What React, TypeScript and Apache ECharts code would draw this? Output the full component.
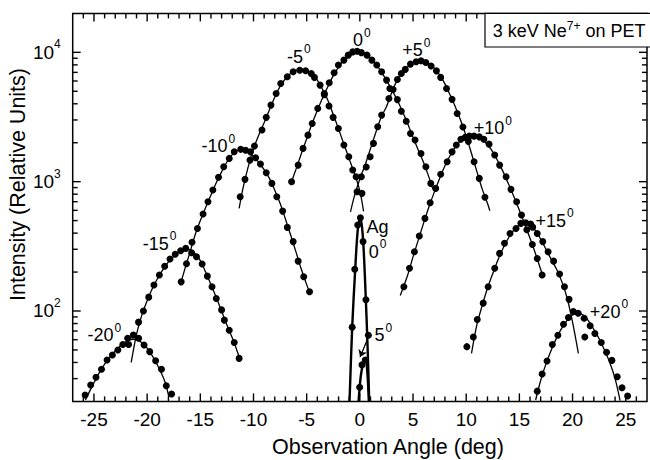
import React, { useEffect, useRef } from 'react';
import * as echarts from 'echarts';

const FONT = '"Liberation Sans", Arial, Helvetica, sans-serif';

// ---- axis ticks ----
const xMajorTicks = [-25, -20, -15, -10, -5, 0, 5, 10, 15, 20, 25];
const xMinorTicks = [-26, -24, -23, -22, -21, -19, -18, -17, -16, -14, -13, -12, -11, -9, -8, -7, -6, -4, -3, -2, -1, 1, 2, 3, 4, 6, 7, 8, 9, 11, 12, 13, 14, 16, 17, 18, 19, 21, 22, 23, 24, 26];
const yMajorTicks = [100, 1000, 10000];
const yMinorTicks = [30, 40, 50, 60, 70, 80, 90, 200, 300, 400, 500, 600, 700, 800, 900, 2000, 3000, 4000, 5000, 6000, 7000, 8000, 9000];

// ---- -20 deg ----
const dotsM20 = [[-25.83, 22.4], [-25.31, 26.8], [-24.81, 30.7], [-24.29, 35.4], [-23.77, 41.8], [-23.27, 45.7], [-22.75, 50], [-22.29, 55], [-21.83, 61.5], [-21.74, 55], [-21.3, 65.3], [-20.8, 61.5], [-20.29, 54.6], [-19.76, 48.5], [-19.2, 41.3], [-18.65, 35.4], [-18.2, 26.4], [-17.7, 22.8]];
const fitM20 = [[-25.8, 20.5], [-25.3, 25], [-24.8, 30], [-24.3, 35.5], [-23.8, 41], [-23.3, 46], [-22.8, 51], [-22.3, 55.5], [-21.8, 59], [-21.3, 60.5], [-20.8, 59], [-20.3, 55], [-19.8, 49], [-19.3, 42], [-18.8, 35], [-18.3, 28], [-17.95, 21.5]];

// ---- -15 deg ----
const dotsM15 = [[-20.81, 82], [-20.35, 100], [-19.85, 128], [-19.36, 159], [-18.85, 190], [-18.35, 222], [-17.85, 252], [-17.36, 275], [-16.85, 292], [-16.37, 305], [-15.82, 282], [-15.36, 263], [-14.83, 231], [-14.34, 186], [-13.9, 154], [-13.5, 125], [-13.0, 102], [-12.74, 85], [-12.28, 71], [-11.81, 57], [-11.35, 43]];
const fitM15 = [[-21.5, 40], [-21, 66], [-20.5, 93], [-20, 120], [-19.5, 150], [-19, 180], [-18.5, 210], [-18, 240], [-17.5, 265], [-17, 285], [-16.5, 298], [-16, 298], [-15.5, 278], [-15, 245], [-14.5, 200], [-14, 160], [-13.5, 127], [-13, 100], [-12.5, 78], [-12, 62], [-11.5, 48], [-11.25, 41]];

// ---- -10 deg ----
const dotsM10 = [[-16.8, 168], [-16.3, 232], [-15.78, 340], [-15.27, 435], [-14.74, 562], [-14.28, 700], [-13.82, 861], [-13.29, 1080], [-12.8, 1303], [-12.28, 1513], [-11.81, 1702], [-11.2, 1778], [-10.74, 1750], [-10.28, 1700], [-9.8, 1530], [-9.35, 1368], [-8.8, 1172], [-8.27, 970], [-7.81, 764], [-7.26, 592], [-6.82, 443], [-6.27, 344], [-5.8, 243], [-5.28, 184], [-4.73, 141]];
const fitM10 = [[-16.8, 168], [-16.5, 205], [-16, 280], [-15.5, 385], [-15, 500], [-14.5, 630], [-14, 790], [-13.5, 980], [-13, 1190], [-12.5, 1420], [-12, 1620], [-11.5, 1750], [-11, 1790], [-10.5, 1720], [-10, 1570], [-9.5, 1410], [-9, 1240], [-8.5, 1060], [-8, 860], [-7.5, 680], [-7, 515], [-6.5, 385], [-6, 285], [-5.5, 210], [-5, 160], [-4.7, 138]];

// ---- -5 deg ----
const dotsM5 = [[-11.25, 764], [-10.8, 1042], [-10.33, 1468], [-9.91, 1884], [-9.2, 2506], [-8.8, 3142], [-8.36, 3908], [-7.87, 4808], [-7.44, 5750], [-6.82, 6470], [-6.27, 7070], [-5.65, 7280], [-5.1, 7200], [-4.57, 6870], [-4.27, 6400], [-3.74, 5580], [-3.34, 4700], [-2.9, 3850], [-2.51, 3142], [-2.02, 2580], [-1.5, 1918], [-1.04, 1560], [-0.67, 1230], [-0.35, 1090], [0.2, 812]];
const fitM5 = [[-11.35, 622], [-11, 880], [-10.5, 1300], [-10, 1800], [-9.5, 2300], [-9, 2850], [-8.5, 3600], [-8, 4500], [-7.5, 5450], [-7, 6250], [-6.5, 6900], [-6, 7250], [-5.5, 7350], [-5, 7200], [-4.5, 6800], [-4, 6100], [-3.5, 5150], [-3, 4250], [-2.5, 3300], [-2, 2550], [-1.5, 1950], [-1, 1500], [-0.5, 1150], [0, 850], [0.35, 590]];

// ---- 0 deg ----
const dots0 = [[-6.42, 1000], [-5.8, 1343], [-5.34, 1808], [-4.88, 2290], [-4.48, 2820], [-3.96, 3685], [-3.34, 4808], [-2.88, 5810], [-2.42, 6950], [-2.02, 7970], [-1.5, 8700], [-1.09, 9510], [-0.67, 10080], [-0.26, 10200], [0.14, 9950], [0.67, 9510], [1.13, 8700], [1.59, 7970], [2.05, 7070], [2.51, 6100], [2.82, 5260], [3.53, 4310], [3.9, 3500], [4.36, 2930], [4.76, 2360], [5.19, 2100], [5.75, 1650], [6.21, 1303], [6.67, 970]];
const fit0 = [[-6.42, 1000], [-6, 1250], [-5.5, 1650], [-5, 2150], [-4.5, 2800], [-4, 3550], [-3.5, 4450], [-3, 5450], [-2.5, 6600], [-2, 7700], [-1.5, 8700], [-1, 9450], [-0.5, 9950], [0, 10100], [0.5, 9800], [1, 9100], [1.5, 8150], [2, 7100], [2.5, 6100], [3, 5150], [3.5, 4300], [4, 3500], [4.5, 2800], [5, 2200], [5.5, 1750], [6, 1400], [6.5, 1080], [6.85, 880]];

// ---- +5 deg ----
const dotsP5 = [[-0.26, 836], [0.14, 1090], [0.6, 1300], [0.97, 1560], [1.28, 1977], [1.68, 2656], [2.05, 3270], [2.73, 4400], [3.13, 5160], [3.53, 6170], [3.9, 6870], [4.27, 7380], [4.76, 8110], [5.29, 8450], [5.75, 8600], [6.2, 8350], [6.7, 7850], [7.2, 7190], [7.6, 6400], [8.15, 5260], [8.67, 4330], [9.15, 3370], [9.69, 2650], [10.2, 2050], [10.74, 1425], [11.23, 1060], [11.76, 757]];
const fitP5 = [[-0.88, 585], [-0.5, 780], [0, 1050], [0.5, 1350], [1, 1800], [1.5, 2400], [2, 3150], [2.5, 3800], [3, 4900], [3.5, 6100], [4, 7050], [4.5, 7750], [5, 8250], [5.5, 8550], [6, 8500], [6.5, 8150], [7, 7550], [7.5, 6700], [8, 5700], [8.5, 4650], [9, 3750], [9.5, 2950], [10, 2250], [10.5, 1650], [11, 1200], [11.5, 880], [12, 680], [12.22, 596]];

// ---- +10 deg ----
const dotsP10 = [[4.14, 154], [4.67, 214], [5.13, 287], [5.59, 380], [6.12, 520], [6.61, 687], [7.13, 887], [7.6, 1140], [8.21, 1425], [8.67, 1700], [9.07, 1920], [9.5, 2125], [9.91, 2200], [10.3, 2250], [10.74, 2250], [11.23, 2220], [11.66, 2125], [12.15, 1950], [12.68, 1607], [13.14, 1343], [13.75, 1090], [14.21, 872], [14.74, 700], [15.2, 552], [15.7, 425], [16.22, 327], [16.68, 255], [17.14, 190]];
const fitP10 = [[3.8, 132], [4.5, 190], [5, 262], [5.5, 355], [6, 480], [6.5, 640], [7, 830], [7.5, 1060], [8, 1330], [8.5, 1600], [9, 1870], [9.5, 2080], [10, 2220], [10.5, 2270], [11, 2230], [11.5, 2110], [12, 1930], [12.5, 1700], [13, 1430], [13.5, 1180], [14, 950], [14.5, 760], [15, 600], [15.5, 470], [16, 365], [16.5, 280], [17, 210], [17.2, 188]];

// ---- +15 deg ----
const dotsP15 = [[10.06, 53], [10.67, 63], [11.04, 86], [11.6, 115], [12.06, 154], [12.68, 214], [13.14, 279], [13.6, 334], [14.12, 398], [14.68, 435], [15.14, 476], [15.6, 481], [16.06, 470], [16.25, 445], [16.68, 398], [17.2, 344], [17.7, 287], [18.22, 243], [18.78, 193], [19.24, 154], [19.67, 123]];
const fitP15 = [[10.5, 47], [11, 78], [11.5, 110], [12, 150], [12.5, 195], [13, 250], [13.5, 310], [14, 370], [14.5, 425], [15, 465], [15.5, 480], [16, 465], [16.5, 420], [17, 360], [17.5, 300], [18, 250], [18.5, 210], [19, 168], [19.5, 125], [20, 82], [20.55, 47]];

// ---- +20 deg ----
const dotsP20 = [[16.68, 24], [17.14, 32.6], [17.6, 41], [18.1, 55], [18.62, 65], [19.15, 79], [19.61, 89], [20.07, 99], [20.53, 96], [21.09, 88], [21.15, 63], [21.65, 77], [22.1, 67], [22.7, 57], [23.2, 48], [23.7, 41.5], [24.2, 31], [24.65, 25.5], [25.18, 22]];
const fitP20 = [[16.53, 20.5], [17, 29], [17.5, 39], [18, 50], [18.5, 62], [19, 74], [19.5, 85], [20, 93], [20.5, 96], [21, 93], [21.5, 84], [22, 72], [22.5, 61], [23, 50], [23.5, 40], [24, 30], [24.47, 20.3]];

// ---- Ag reference ----
const dotsAg0 = [[-0.72, 75], [-0.48, 210], [-0.2, 462], [0.05, 526], [0.3, 344], [0.57, 122], [0.8, 65]];
const fitAg0 = [[-0.97, 20], [-0.72, 75], [-0.45, 200], [-0.2, 420], [0.05, 530], [0.3, 360], [0.55, 130], [0.72, 55], [0.88, 20]];
const dotsAg5 = [[-0.02, 25.7], [0.2, 38.3], [0.51, 41.8]];
const fitAg5 = [[-0.12, 20], [0.1, 32], [0.35, 40], [0.55, 42], [0.72, 32], [0.85, 20]];
const arrowAg5 = [[0.7, 60], [0.02, 44]];

// ---- annotations ----
const curveLabelText = ['-20', '-15', '-10', '-5', '0', '+5', '+10', '+15', '+20', '0', '5'];
const curveLabelSup = ['0', '0', '0', '0', '0', '0', '0', '0', '0', '0', '0'];
const curveLabelX = [-25.65, -20.47, -14.93, -6.89, -0.69, 3.93, 10.67, 16.47, 21.58, 0.79, 1.34];
const curveLabelY = [65, 330, 1885, 9230, 12420, 10400, 2594, 499, 98.8, 287, 65];
const agLabel = [0.57, 450];

export default function App() {
  const ref = useRef<HTMLDivElement>(null);
  useEffect(() => {
    document.body.style.margin = '0';
    if (!ref.current) return;
    const chart = echarts.init(ref.current, null, { renderer: 'svg' });

    const tickData: number[][] = [];
    xMajorTicks.forEach((v) => tickData.push([v, 100, 0]));
    xMinorTicks.forEach((v) => tickData.push([v, 100, 1]));
    yMajorTicks.forEach((v) => tickData.push([0, v, 2]));
    yMinorTicks.forEach((v) => tickData.push([0, v, 3]));

    const dotSeries = (data: number[][], size = 7) => ({
      type: 'scatter',
      data,
      symbol: 'circle',
      symbolSize: size,
      itemStyle: { color: '#000', opacity: 1 },
      silent: true,
      z: 3,
    });
    const fitSeries = (data: number[][], width = 1.3) => ({
      type: 'line',
      data,
      showSymbol: false,
      symbol: 'none',
      smooth: 0.3,
      lineStyle: { color: '#000', width, opacity: 1 },
      silent: true,
      z: 2,
    });

    const labelData = curveLabelText.map((t, i) => [curveLabelX[i], curveLabelY[i]]);

    const option: any = {
      animation: false,
      backgroundColor: '#fff',
      grid: {
        left: 72.7, top: 13.4, width: 584.3, height: 388,
        show: true, borderColor: '#000', borderWidth: 1.5, backgroundColor: 'transparent',
      },
      xAxis: {
        type: 'value', min: -27, max: 27, splitNumber: 10, minInterval: 5, maxInterval: 5,
        axisLine: { show: false }, axisTick: { show: false }, splitLine: { show: false },
        axisLabel: {
          margin: 9, color: '#000', fontSize: 19, fontFamily: FONT,
          formatter: (v: number) => (Math.abs(v % 5) < 1e-9 ? String(v) : ''),
        },
      },
      yAxis: {
        type: 'log', logBase: 10, min: 20, max: 20000,
        axisLine: { show: false }, axisTick: { show: false }, splitLine: { show: false },
        minorTick: { show: false },
        axisLabel: {
          margin: 12, color: '#000', fontFamily: FONT,
          formatter: (v: number) => {
            const e = Math.round(Math.log10(v));
            if (Math.abs(v - Math.pow(10, e)) > 1e-6 * v) return '';
            return `{b|10}{s|${e}}`;
          },
          rich: {
            b: { fontSize: 19, fontFamily: FONT, color: '#000', lineHeight: 28 },
            s: { fontSize: 12, fontFamily: FONT, color: '#000', lineHeight: 12, verticalAlign: 'top' },
          },
        },
      },
      graphic: [
        {
          type: 'text', x: 388, y: 447,
          style: {
            text: 'Observation Angle (deg)', x: 0, y: 0, align: 'center', verticalAlign: 'middle',
            fontSize: 21.5, fontFamily: FONT, fill: '#000',
          },
        },
        {
          type: 'text', x: 17.5, y: 184.5, rotation: Math.PI / 2,
          style: {
            text: 'Intensity (Relative Units)', x: 0, y: 0, align: 'center', verticalAlign: 'middle',
            fontSize: 21.5, fontFamily: FONT, fill: '#000',
          },
        },
        {
          type: 'rect', shape: { x: 485, y: 13.4, width: 200, height: 33.6 },
          style: { fill: '#fff', stroke: '#000', lineWidth: 1.2 }, z: 10,
        },
        {
          type: 'text', x: 492.7, y: 31, z: 11,
          style: {
            text: '{a|3 keV Ne}{s|7+}{a| on PET}', verticalAlign: 'middle', align: 'left',
            rich: {
              a: { fontSize: 18, fontFamily: FONT, fill: '#000', lineHeight: 22 },
              s: { fontSize: 12, fontFamily: FONT, fill: '#000', lineHeight: 12, verticalAlign: 'top' },
            },
          },
        },
      ],
      series: [
        {
          type: 'custom',
          coordinateSystem: 'cartesian2d',
          data: tickData,
          silent: true,
          clip: false,
          z: 5,
          renderItem: (params: any, api: any) => {
            const cs = params.coordSys;
            const kind = api.value(2);
            const st = { stroke: '#000', lineWidth: 1.4 };
            if (kind < 2) {
              const x = api.coord([api.value(0), 100])[0];
              const len = kind === 0 ? 8 : 5;
              const b = cs.y + cs.height;
              return {
                type: 'group',
                children: [
                  { type: 'line', shape: { x1: x, y1: b, x2: x, y2: b - len }, style: st },
                  { type: 'line', shape: { x1: x, y1: cs.y, x2: x, y2: cs.y + len }, style: st },
                ],
              };
            }
            const y = api.coord([0, api.value(1)])[1];
            const len = kind === 2 ? 8 : 5;
            const r = cs.x + cs.width;
            return {
              type: 'group',
              children: [
                { type: 'line', shape: { x1: cs.x, y1: y, x2: cs.x + len, y2: y }, style: st },
                { type: 'line', shape: { x1: r, y1: y, x2: r - len, y2: y }, style: st },
              ],
            };
          },
        },
        fitSeries(fitM20), dotSeries(dotsM20),
        fitSeries(fitM15), dotSeries(dotsM15),
        fitSeries(fitM10), dotSeries(dotsM10),
        fitSeries(fitM5), dotSeries(dotsM5),
        fitSeries(fit0), dotSeries(dots0),
        fitSeries(fitP5), dotSeries(dotsP5),
        fitSeries(fitP10), dotSeries(dotsP10),
        fitSeries(fitP15), dotSeries(dotsP15),
        fitSeries(fitP20), dotSeries(dotsP20),
        fitSeries(fitAg0, 2.4), dotSeries(dotsAg0),
        fitSeries(fitAg5, 2.4), dotSeries(dotsAg5),
        {
          type: 'line', data: arrowAg5, showSymbol: false, symbol: 'none',
          lineStyle: { color: '#000', width: 1 }, silent: true,
          markLine: {
            silent: true, symbol: ['none', 'arrow'], symbolSize: 7,
            lineStyle: { color: '#000', width: 1, type: 'solid', opacity: 1 }, label: { show: false },
            data: [[{ coord: arrowAg5[0] }, { coord: arrowAg5[1] }]],
          },
        },
        {
          type: 'scatter',
          data: labelData,
          symbolSize: 1,
          itemStyle: { color: 'rgba(0,0,0,0)', opacity: 1 },
          silent: true,
          z: 8,
          label: {
            show: true, position: 'right', distance: 0, opacity: 1, color: '#000',
            formatter: (p: any) => `{b|${curveLabelText[p.dataIndex]}}{s|${curveLabelSup[p.dataIndex]}}`,
            rich: {
              b: { fontSize: 18, fontFamily: FONT, color: '#000', lineHeight: 27 },
              s: { fontSize: 12, fontFamily: FONT, color: '#000', lineHeight: 12, verticalAlign: 'top', padding: [0, 0, 0, 1] },
            },
          },
        },
        {
          type: 'scatter',
          data: [agLabel],
          symbolSize: 1,
          itemStyle: { color: 'rgba(0,0,0,0)', opacity: 1 },
          silent: true,
          z: 8,
          label: {
            show: true, position: 'right', distance: 0, formatter: 'Ag', opacity: 1,
            fontSize: 18, fontFamily: FONT, color: '#000',
          },
        },
      ],
    };
    chart.setOption(option);
    return () => chart.dispose();
  }, []);
  return <div ref={ref} style={{ width: 650, height: 460 }} />;
}
